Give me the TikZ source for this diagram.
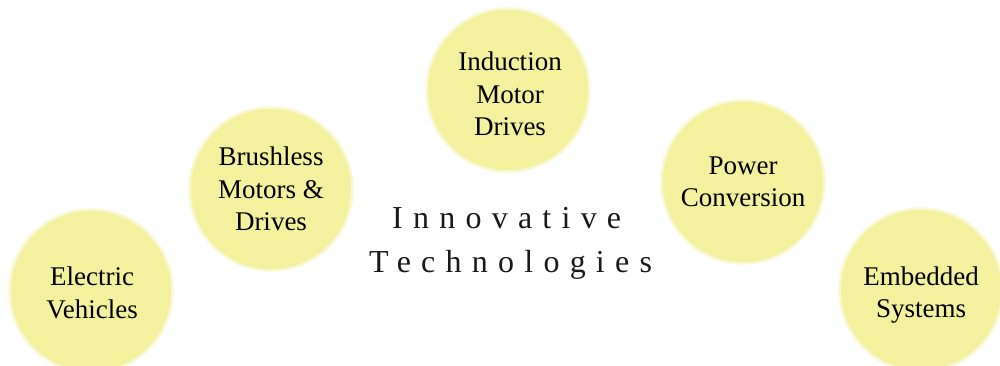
\documentclass[tikz,border=0pt]{standalone}
\usepackage{fontspec}
\setmainfont{Liberation Serif}
\definecolor{bubble}{RGB}{243,241,158}
\definecolor{bubbleedge}{RGB}{249,248,210}
\begin{document}
\begin{tikzpicture}[x=1pt,y=-1pt,
  bubblenode/.style={circle,fill=bubble,draw=bubbleedge,line width=2.5pt,minimum size=163pt,inner sep=0pt,
    align=center,font=\fontsize{27}{32.5}\selectfont,text=black},
  titletext/.style={anchor=base west,inner sep=0pt,text=black!90,
    font=\fontsize{32}{38}\selectfont\addfontfeature{LetterSpace=32}}]
\useasboundingbox (0,0) rectangle (1000,366);
\node[bubblenode] (ev) at (91,291) {};
\node[align=center,font=\fontsize{27}{32.5}\selectfont] (evt) at (92,293) {Electric\\Vehicles};
\node[bubblenode] (bl) at (271,189) {Brushless\\Motors \&\\Drives};
\node[bubblenode] (im) at (508,90) {};
\node[align=center,font=\fontsize{27}{32.5}\selectfont] (imt) at (510,94) {Induction\\Motor\\Drives};
\node[bubblenode] (pc) at (743,182) {Power\\Conversion};
\node[bubblenode] (es) at (921,290) {};
\node[align=center,font=\fontsize{27}{32.5}\selectfont] (est) at (921,295) {Embedded\\Systems};
\node[titletext] (t1) at (392,228) {Innovative};
\node[titletext] (t2) at (369,272) {Technologies};
\end{tikzpicture}
\end{document}
